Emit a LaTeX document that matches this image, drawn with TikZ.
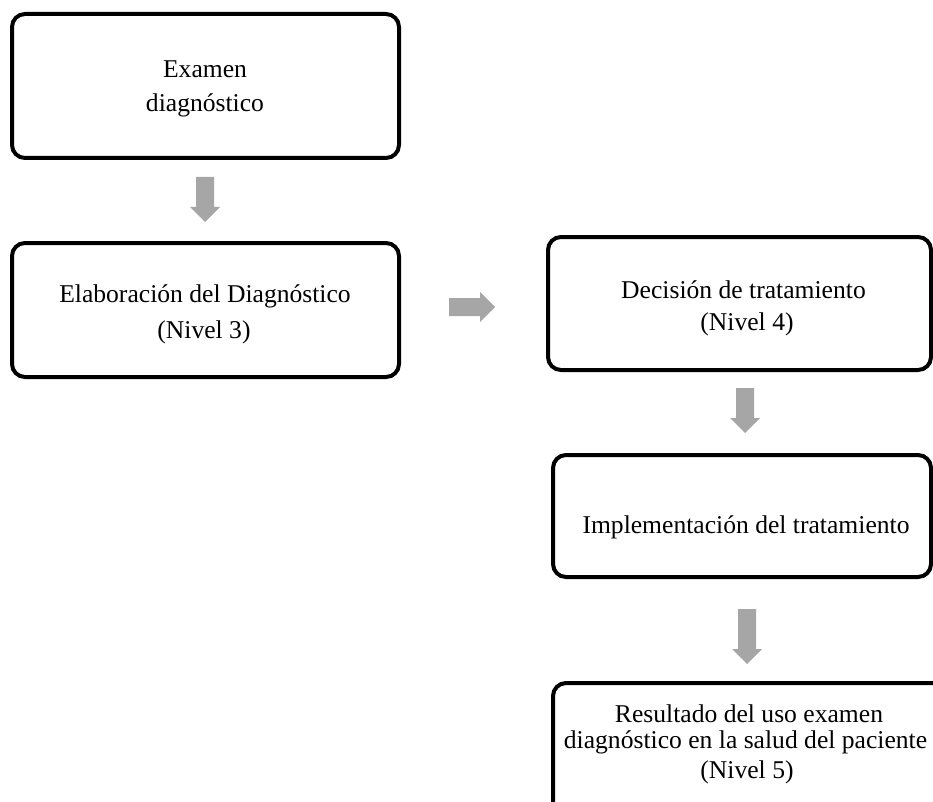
\documentclass[tikz,border=0pt]{standalone}
\usepackage{fontspec}
\setmainfont{Liberation Serif}
\begin{document}
\begin{tikzpicture}[x=1pt,y=-1pt,
  stagebox/.style={draw=black, line width=4pt, rounded corners=13pt,
    rectangle, inner sep=0pt, fill=white},
  txt/.style={anchor=base, inner sep=0pt, font=\fontsize{25.6}{30}\selectfont},
  pics/downarrow/.style={code={
    \fill[arrowgray] (-9,0) -- (9,0) -- (9,#1) -- (15,#1) -- (0,#1+15)
      -- (-15,#1) -- (-9,#1) -- cycle;}},
  pics/rightarrow/.style={code={
    \fill[arrowgray] (0,-9) -- (#1,-9) -- (#1,-15) -- (#1+15,0)
      -- (#1,15) -- (#1,9) -- (0,9) -- cycle;}}
]
\definecolor{arrowgray}{HTML}{A6A6A6}
\useasboundingbox (0,0) rectangle (933,802);
\clip (0,0) rectangle (933,802);

% stage boxes
\node[stagebox, minimum width=387pt, minimum height=144pt] (examen) at (205.5,86) {};
\node[stagebox, minimum width=387pt, minimum height=134pt] (elab) at (205.5,310) {};
\node[stagebox, minimum width=383pt, minimum height=133pt] (decision) at (739.5,303.5) {};
\node[stagebox, minimum width=378pt, minimum height=122pt] (impl) at (742,516) {};
\node[stagebox, minimum width=400pt, minimum height=147pt] (result) at (753,756.5) {};

% box texts
\node[txt] (t1a) at (205,78) {Examen};
\node[txt] (t1b) at (205,112) {diagnóstico};
\node[txt] (t2a) at (205,302) {Elaboración del Diagnóstico};
\node[txt] (t2b) at (204,338) {(Nivel 3)};
\node[txt] (t3a) at (743.5,298) {Decisión de tratamiento};
\node[txt] (t3b) at (747,330) {(Nivel 4)};
\node[txt] (t4a) at (746,533) {Implementación del tratamiento};
\node[txt] (t5a) at (749,722) {Resultado del uso examen};
\node[txt] (t5b) at (745.5,748) {diagnóstico en la salud del paciente};
\node[txt] (t5c) at (747,778) {(Nivel 5)};

% block arrows between stages
\pic at (205,177) {downarrow=30};
\pic at (449,307) {rightarrow=31};
\pic at (745,388) {downarrow=30};
\pic at (747,609) {downarrow=40};
\end{tikzpicture}
\end{document}
